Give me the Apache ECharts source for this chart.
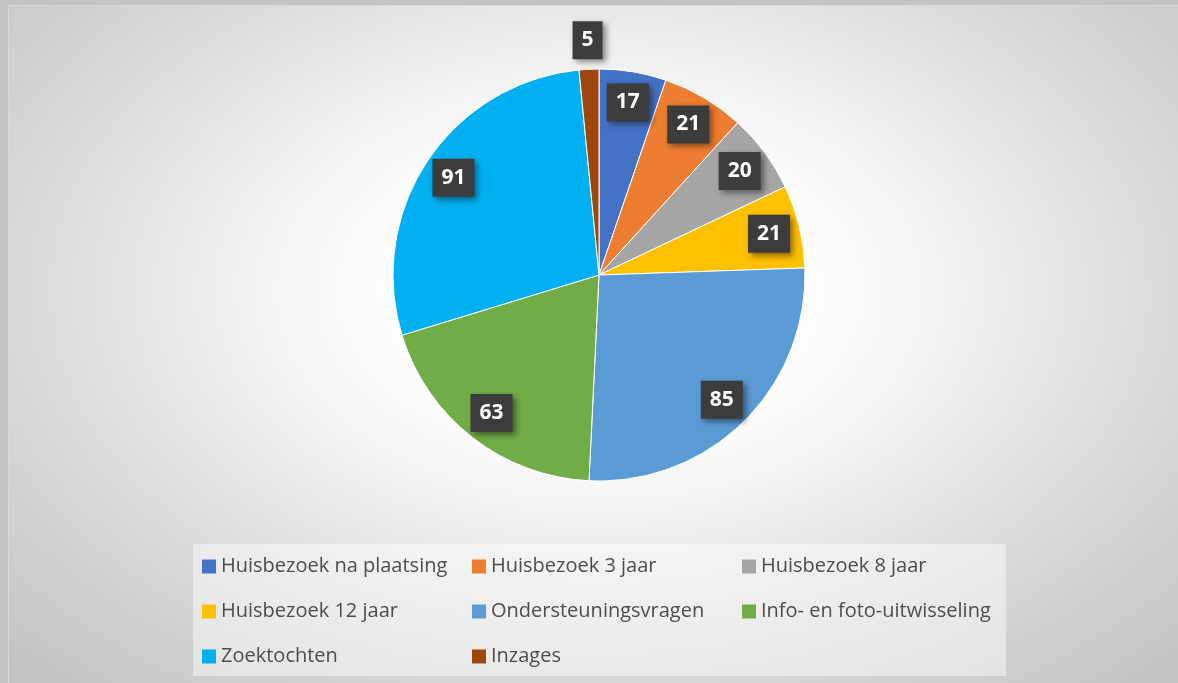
<!DOCTYPE html>
<html>
<head>
<meta charset="utf-8">
<script src="https://cdn.jsdelivr.net/npm/echarts@6/dist/echarts.min.js"></script>
<style>
  html, body {
    margin: 0;
    padding: 0;
    background: #c3c3c3;
  }
  .chart-warp {
    position: absolute;
    left: 8px;
    top: 5px;
    width: 1170px;
    height: 678px;
    background: radial-gradient(ellipse 70% 78% at 50.5% 42%, #ffffff 0%, #fcfcfc 30%, #dedede 65%, #c3c3c3 100%);
    border-top: 1px solid #d9d9d9;
    border-left: 1px solid #d9d9d9;
  }
  #pie {
    width: 1170px;
    height: 678px;
  }
</style>
</head>
<body>
<div class="chart-warp">
  <div id="pie"></div>
</div>
<script>
// categories and values
const categories = [
  'Huisbezoek na plaatsing',
  'Huisbezoek 3 jaar',
  'Huisbezoek 8 jaar',
  'Huisbezoek 12 jaar',
  'Ondersteuningsvragen',
  'Info- en foto-uitwisseling',
  'Zoektochten',
  'Inzages'
];
const values = [17, 21, 20, 21, 85, 63, 91, 5];
const colors = ['#4472C4', '#ED7D31', '#A5A5A5', '#FFC000', '#5B9BD5', '#70AD47', '#00B0F0', '#9E480E'];

// labels that sit outside the pie (small slice)
const outsideLabels = ['Inzages'];

const center = [590, 269];
const radius = 206;

const labelStyle = {
  show: true,
  position: 'inside',
  color: '#ffffff',
  fontFamily: 'Open Sans',
  fontWeight: 'bold',
  fontSize: 21,
  lineHeight: 21,
  backgroundColor: '#3c3c3c',
  padding: [9, 9, 8, 9],
  shadowColor: 'rgba(0, 0, 0, 0.45)',
  shadowBlur: 6,
  shadowOffsetX: 3,
  shadowOffsetY: 3,
  formatter: '{c}'
};

const baseData = categories.map((name, i) => ({ name: name, value: values[i] }));

const labelData = (outside) =>
  categories.map((name, i) => ({
    name: name,
    value: values[i],
    label: { show: outsideLabels.includes(name) === outside }
  }));

const overlay = {
  type: 'pie',
  center: center,
  startAngle: 90,
  silent: true,
  avoidLabelOverlap: false,
  itemStyle: { color: 'rgba(0,0,0,0)', borderWidth: 0 },
  labelLine: { show: false },
  emphasis: { disabled: true },
  label: labelStyle
};

const myChart = echarts.init(document.getElementById('pie'));

myChart.setOption({
  color: colors,
  animation: false,
  legend: {
    data: categories,
    orient: 'horizontal',
    left: 184,
    top: 538,
    width: 805,
    padding: [5, 4, 2, 9],
    itemGap: 10,
    itemWidth: 14,
    itemHeight: 14,
    icon: 'rect',
    itemStyle: { borderWidth: 0 },
    backgroundColor: 'rgba(255, 255, 255, 0.45)',
    textStyle: {
      fontFamily: 'Open Sans',
      fontSize: 20,
      color: '#4d4d4d',
      width: 241,
      height: 35,
      lineHeight: 35
    }
  },
  series: [
    {
      type: 'pie',
      center: center,
      radius: radius,
      startAngle: 90,
      silent: true,
      itemStyle: { borderColor: '#ffffff', borderWidth: 1 },
      label: { show: false },
      labelLine: { show: false },
      data: baseData
    },
    Object.assign({}, overlay, { radius: [138, radius], data: labelData(false) }),
    Object.assign({}, overlay, { radius: [radius, 258], data: labelData(true) })
  ]
});

window.addEventListener('resize', () => {
  myChart.resize();
});
</script>
</body>
</html>
